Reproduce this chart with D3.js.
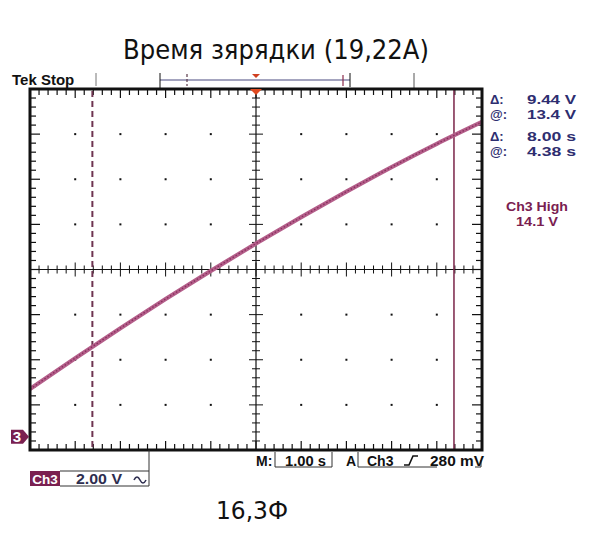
<!DOCTYPE html>
<html><head><meta charset="utf-8">
<script src="https://cdn.jsdelivr.net/npm/d3@7"></script>
<style>body{margin:0;background:#fff}svg{display:block}</style>
</head><body>
<svg id="c" width="590" height="542"></svg>
<script>
// ---- data ----
const title = "Время зярядки (19,22A)";
const subtitle = "16,3Ф";
const timeS = [-5, -4, -3, -2, -1, 0, 1, 2, 3, 4, 5];
const volts = [2.11, 3.48, 4.81, 6.10, 7.35, 8.56, 9.73, 10.86, 11.95, 12.98, 13.95];
const cursorT = [-3.62, 4.38];
const readoutLabels = ["Δ:", "@:", "Δ:", "@:"];
const readoutValues = ["9.44 V", "13.4 V", "8.00 s", "4.38 s"];
const triggerLines = ["Ch3 High", "14.1 V"];
const timeDomain = [-5, 5];
const voltDomain = [-0.59, 15.41];

const svg = d3.select("#c");
svg.append("rect").attr("width",590).attr("height",542).attr("fill","#fff");
const L=30,R=482,T=89,B=450;
const x = d3.scaleLinear().domain(timeDomain).range([L,R]);
const y = d3.scaleLinear().domain(voltDomain).range([B,T]);
const divX=(R-L)/10, divY=(B-T)/8;
const cx=x(0), cy=(T+B)/2;
const rf="'Liberation Sans',Arial,sans-serif";

// title
svg.append("text").attr("x",276).attr("y",59).attr("text-anchor","middle")
  .attr("font-family","'Liberation Sans Narrow','DejaVu Sans Condensed','Liberation Sans',sans-serif")
  .attr("font-size",27).attr("textLength",306).attr("lengthAdjust","spacingAndGlyphs")
  .attr("fill","#111").text(title);
svg.append("text").attr("x",12).attr("y",85).attr("font-family",rf)
  .attr("font-weight","bold").attr("font-size",15).attr("fill","#111").text("Tek Stop");

// top record bar
const g0 = svg.append("g");
g0.append("line").attr("x1",96).attr("x2",96).attr("y1",73).attr("y2",86).attr("stroke","#777").attr("stroke-width",1);
g0.append("line").attr("x1",414).attr("x2",414).attr("y1",73).attr("y2",88).attr("stroke","#555").attr("stroke-width",1);
g0.append("line").attr("x1",160).attr("x2",350).attr("y1",80).attr("y2",80).attr("stroke","#4a4a80").attr("stroke-width",1.2);
g0.append("line").attr("x1",160).attr("x2",160).attr("y1",73).attr("y2",88).attr("stroke","#111").attr("stroke-width",1);
g0.append("line").attr("x1",350).attr("x2",350).attr("y1",73).attr("y2",87).attr("stroke","#111").attr("stroke-width",1);
g0.append("line").attr("x1",343).attr("x2",343).attr("y1",75).attr("y2",86).attr("stroke","#8a2a4a").attr("stroke-width",1.2);
g0.append("line").attr("x1",187).attr("x2",187).attr("y1",74).attr("y2",86).attr("stroke","#5a3a4a").attr("stroke-width",1.2).attr("stroke-dasharray","3,2");
g0.append("path").attr("d",`M${cx-4},74 L${cx+4},74 L${cx},78 Z`).attr("fill","#d04020");

// grid dots
const gd = svg.append("g");
for(let i=1;i<10;i++){ if(i===5) continue;
  for(let j=1;j<8;j++){ if(j===4) continue;
    gd.append("rect").attr("x",L+i*divX-1).attr("y",T+j*divY-1).attr("width",2).attr("height",2).attr("fill","#111");
  }}

// center lines + ticks
const gc = svg.append("g").attr("stroke","#111");
gc.append("line").attr("x1",L).attr("x2",R).attr("y1",cy).attr("y2",cy).attr("stroke-width",1.2);
gc.append("line").attr("x1",cx).attr("x2",cx).attr("y1",T).attr("y2",B).attr("stroke-width",1.2);
for(let k=1;k<50;k++){
  const px=L+k*divX/5, major=k%5===0, h=major?7:4;
  gc.append("line").attr("x1",px).attr("x2",px).attr("y1",cy-h).attr("y2",cy+h).attr("stroke-width",1);
  const hb=major?9:6;
  gc.append("line").attr("x1",px).attr("x2",px).attr("y1",T).attr("y2",T+hb).attr("stroke-width",1.2);
  gc.append("line").attr("x1",px).attr("x2",px).attr("y1",B-hb).attr("y2",B).attr("stroke-width",1.2);
}
for(let k=1;k<40;k++){
  const py=T+k*divY/5, major=k%5===0, h=major?7:4;
  gc.append("line").attr("x1",cx-h).attr("x2",cx+h).attr("y1",py).attr("y2",py).attr("stroke-width",1);
  const hb=major?10:6;
  gc.append("line").attr("x1",L).attr("x2",L+hb).attr("y1",py).attr("y2",py).attr("stroke-width",1.2);
  gc.append("line").attr("x1",R-hb).attr("x2",R).attr("y1",py).attr("y2",py).attr("stroke-width",1.2);
}

// cursors
svg.append("line").attr("x1",x(cursorT[0])).attr("x2",x(cursorT[0])).attr("y1",T+2).attr("y2",B-2)
  .attr("stroke","#6e3450").attr("stroke-width",2).attr("stroke-dasharray","6,4");
svg.append("line").attr("x1",x(cursorT[1])).attr("x2",x(cursorT[1])).attr("y1",T).attr("y2",B)
  .attr("stroke","#7a2448").attr("stroke-width",1.5);

// trace
const line = d3.line().x((d,i)=>x(timeS[i])).y(d=>y(d)).curve(d3.curveMonotoneX);
svg.append("path").datum(volts).attr("d",line).attr("fill","none")
  .attr("stroke","#b45e8a").attr("stroke-width",4.2);
svg.append("path").datum(volts).attr("d",line).attr("fill","none")
  .attr("stroke","#86305c").attr("stroke-width",1.4).attr("stroke-dasharray","1.5,2");

// frame
svg.append("rect").attr("x",L).attr("y",T).attr("width",R-L).attr("height",B-T)
  .attr("fill","none").attr("stroke","#111").attr("stroke-width",3);

// trigger marker
svg.append("path").attr("d",`M${cx-6},${T} L${cx+6},${T} L${cx},${T+6} Z`).attr("fill","#e04a20");

// ground marker
const gy=y(0);
svg.append("path").attr("d",`M11,${gy-7} L23,${gy-7} L29,${gy} L23,${gy+7} L11,${gy+7} Z`).attr("fill","#7a2050");
svg.append("text").attr("x",17).attr("y",gy+5.5).attr("text-anchor","middle").attr("fill","#fff")
  .attr("font-family",rf).attr("font-weight","bold").attr("font-size",15).text("3");

// readouts
const rowY=[104,119,141,156];
readoutLabels.forEach((t,i)=>{
  svg.append("text").attr("x",490).attr("y",rowY[i]).attr("font-family",rf).attr("font-size",13)
    .attr("font-weight","bold").attr("fill","#2e2e70").text(t);
  svg.append("text").attr("x",527).attr("y",rowY[i]).attr("font-family",rf)
    .attr("font-size",13).attr("font-weight","bold").attr("fill","#2e2e70")
    .attr("textLength",49).attr("lengthAdjust","spacingAndGlyphs").text(readoutValues[i]);
});
triggerLines.forEach((t,i)=>{
  svg.append("text").attr("x",537).attr("y",211+i*15).attr("text-anchor","middle").attr("font-family",rf)
    .attr("font-size",13).attr("font-weight","bold").attr("fill","#7a2050")
    .attr("textLength",i?42:62).attr("lengthAdjust","spacingAndGlyphs").text(t);
});

// bottom status
const bs=svg.append("g").attr("stroke","#333").attr("stroke-width",1).attr("fill","none");
bs.append("path").attr("d","M275,452 L275,467 L332,467 L332,452");
bs.append("path").attr("d","M358,452 L358,467 L437,467");
bs.append("path").attr("d","M475,467 L481,467 L481,460");
bs.append("path").attr("d","M60,471 L149,471 L149,486 L60,486");
bs.append("line").attr("x1",149).attr("x2",149).attr("y1",450).attr("y2",471);
const st=(xx,yy,t,anc,tl)=>{const e=svg.append("text").attr("x",xx).attr("y",yy).attr("text-anchor",anc||"start")
  .attr("font-family",rf).attr("font-size",14).attr("font-weight","bold").attr("fill","#111").text(t);
  if(tl) e.attr("textLength",tl).attr("lengthAdjust","spacingAndGlyphs"); return e;};
st(256,466,"M:");
st(285,466,"1.00 s","start",41);
st(346,466,"A");
st(367,466,"Ch3");
svg.append("path").attr("d","M404,465 L409,465 L413,456 L418,456").attr("fill","none").attr("stroke","#111").attr("stroke-width",1.6);
st(430,466,"280 mV","start",54);
svg.append("rect").attr("x",30).attr("y",471).attr("width",30).attr("height",15).attr("fill","#7a2050");
svg.append("text").attr("x",45).attr("y",483.5).attr("text-anchor","middle").attr("font-family",rf)
  .attr("font-weight","bold").attr("font-size",13.5).attr("fill","#fff").text("Ch3");
svg.append("text").attr("x",76).attr("y",484).attr("font-family",rf).attr("font-size",14).attr("font-weight","bold")
  .attr("textLength",46).attr("lengthAdjust","spacingAndGlyphs").attr("fill","#2e2e50").text("2.00 V");
svg.append("path").attr("d","M134,480 Q137,474 140,480 Q143,486 146,480").attr("fill","none").attr("stroke","#2e2e50").attr("stroke-width",1.6);

svg.append("text").attr("x",252).attr("y",519).attr("text-anchor","middle")
  .attr("font-family","'Liberation Sans Narrow','DejaVu Sans Condensed','Liberation Sans',sans-serif")
  .attr("font-size",25).attr("textLength",72).attr("lengthAdjust","spacingAndGlyphs").attr("fill","#111").text(subtitle);
</script>
</body></html>
